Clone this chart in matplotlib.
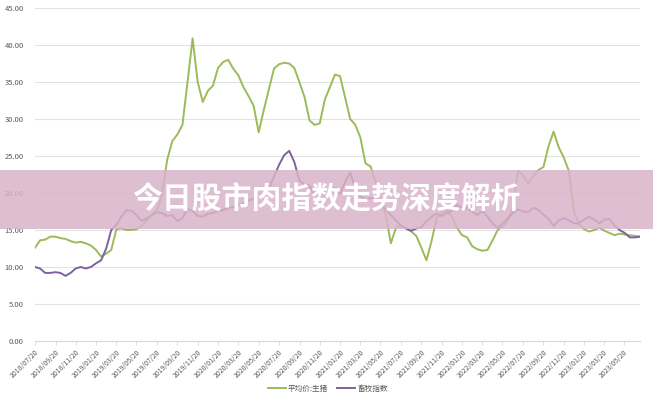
import matplotlib
matplotlib.use("Agg")
import matplotlib.pyplot as plt
from matplotlib.patches import Rectangle
import pandas as pd

plt.rcParams['font.family'] = ['Noto Sans CJK SC', 'DejaVu Sans']

start_date = "2018-07-20"
end_date = "2023-07-07"
n_points = 120

pig_price = [
    12.6, 13.6, 13.7, 14.1, 14.1, 13.9, 13.8, 13.5, 13.3, 13.4,
    13.2, 12.9, 12.3, 11.4, 11.8, 12.3, 15.1, 15.2, 15.0, 15.0,
    15.1, 15.6, 16.3, 17.1, 17.7, 19.8, 24.5, 27.0, 27.9, 29.2,
    35.0, 40.9, 35.0, 32.3, 33.8, 34.5, 36.9, 37.7, 38.0, 36.8,
    35.9, 34.3, 33.1, 31.8, 28.2, 31.2, 34.0, 36.8, 37.4, 37.6,
    37.5, 36.9, 35.0, 33.0, 29.8, 29.2, 29.4, 32.6, 34.3, 36.0,
    35.8, 32.9, 30.0, 29.2, 27.5, 24.0, 23.6, 21.5, 18.8, 17.0,
    13.2, 15.3, 15.6, 15.2, 14.8, 14.2, 12.6, 10.9, 13.5, 16.6,
    17.3, 17.6, 16.8, 15.3, 14.3, 14.0, 12.8, 12.4, 12.2, 12.3,
    13.6, 15.0, 15.5, 16.3, 17.9, 23.0, 22.4, 21.3, 22.3, 23.1,
    23.5, 26.3, 28.3, 26.2, 24.8, 23.0, 17.5, 15.8, 15.1, 14.8,
    15.0, 15.3, 14.9, 14.6, 14.3, 14.5, 14.4, 14.3, 14.2, 14.1,
]

livestock_index = [
    10.0, 9.8, 9.2, 9.2, 9.3, 9.2, 8.8, 9.2, 9.8, 10.0,
    9.8, 10.0, 10.5, 10.9, 12.5, 15.0, 15.7, 16.8, 17.7, 17.6,
    17.0, 16.2, 16.6, 17.0, 17.4, 17.3, 16.9, 17.0, 16.2, 16.6,
    17.8, 17.6, 16.9, 16.8, 17.2, 17.3, 17.6, 17.7, 18.0, 18.1,
    18.4, 18.6, 19.0, 19.2, 19.5, 20.0, 20.6, 22.2, 23.8, 25.1,
    25.7, 24.2, 21.7, 21.1, 21.0, 19.7, 19.8, 19.7, 20.0, 20.7,
    19.9, 21.5, 22.8, 20.5, 19.5, 19.2, 19.3, 19.4, 18.6, 17.8,
    17.0, 16.3, 15.6, 15.2, 14.9, 15.2, 15.4, 16.2, 16.8, 17.2,
    16.9, 17.3, 17.6, 18.4, 18.0, 18.0, 17.5, 17.0, 17.6, 16.8,
    15.9, 15.3, 15.9, 16.6, 17.3, 17.8, 17.5, 17.4, 18.0, 17.7,
    17.1, 16.5, 15.5, 16.3, 16.6, 16.3, 15.9, 15.9, 16.4, 16.8,
    16.4, 15.9, 16.4, 16.5, 15.6, 15.0, 14.6, 14.0, 14.0, 14.1,
]

series_names = ["平均价:生猪", "畜牧指数"]
title_text = "今日股市肉指数走势深度解析"
y_ticks = [0, 5, 10, 15, 20, 25, 30, 35, 40, 45]
tick_month_start = "2018-07-01"
tick_month_end = "2023-05-01"
tick_day_offset = 19

dates = pd.date_range(start_date, end_date, periods=n_points)
tick_dates = pd.date_range(tick_month_start, tick_month_end, freq="2MS") + pd.Timedelta(days=tick_day_offset)

W, H = 653, 400
fig = plt.figure(figsize=(W / 100, H / 100), dpi=100)
ax = fig.add_axes([35 / W, 1 - 341 / H, (640 - 35) / W, (341 - 8) / H])

green = "#9BBB59"
purple = "#7E62A0"
ax.plot(dates, pig_price, color=green, lw=1.4, label=series_names[0], zorder=3)
ax.plot(dates, livestock_index, color=purple, lw=1.4, label=series_names[1], zorder=4)

ax.set_xlim(dates[0], dates[-1])
ax.set_ylim(0, 45)
ax.set_yticks(y_ticks)
ax.set_yticklabels([f"{v:.2f}" for v in y_ticks])
ax.yaxis.grid(True, color="#E3E3E3", lw=0.8)
ax.set_axisbelow(True)
for s in ["top", "right", "left"]:
    ax.spines[s].set_visible(False)
ax.spines["bottom"].set_color("#D9D9D9")
ax.spines["bottom"].set_linewidth(0.8)
ax.tick_params(axis="y", length=0, pad=8, labelsize=5.5, labelcolor="#595959")
ax.set_xticks(tick_dates)
ax.set_xticklabels([d.strftime("%Y/%m/%d") for d in tick_dates])
ax.tick_params(axis="x", length=3, width=0.6, color="#D9D9D9", pad=2,
               labelsize=5, labelcolor="#595959")
for lbl in ax.get_xticklabels():
    lbl.set_rotation(45)
    lbl.set_ha("right")
    lbl.set_rotation_mode("anchor")

fig.legend(loc="center", bbox_to_anchor=(328 / W, 1 - 389 / H), ncol=2,
           frameon=False, fontsize=5.5, labelcolor="#595959",
           handlelength=2.3, columnspacing=1.2, handletextpad=0.3)

fig.add_artist(Rectangle((0, 1 - 229 / H), 1, 59 / H, transform=fig.transFigure,
                         facecolor=(0.85, 0.70, 0.79), alpha=0.85,
                         edgecolor="none", zorder=10))
fig.text(0.5, 1 - 200 / H, title_text, ha="center", va="center",
         color="white", fontsize=21.5, fontweight="bold", zorder=11)

fig.savefig("out.png", dpi=100)
